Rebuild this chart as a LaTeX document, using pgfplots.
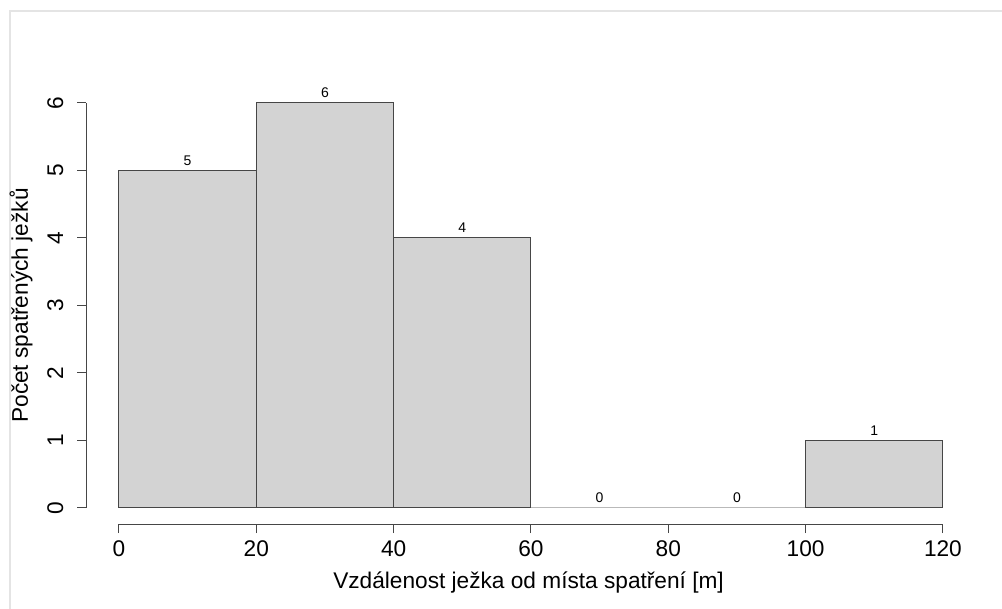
\documentclass[border=0pt]{standalone}
\usepackage{fontspec}
\setmainfont{Liberation Sans}
\usepackage{pgfplots}
\pgfplotsset{compat=1.18}
\definecolor{barfill}{RGB}{211,211,211}
\definecolor{lin}{RGB}{70,70,70}
\definecolor{frame}{RGB}{228,228,228}
\begin{document}
\begin{tikzpicture}
\useasboundingbox (0,0) rectangle (751.5pt,456.75pt);
\fill[white] (0,0) rectangle (751.5pt,456.75pt);
\draw[line width=1.5pt, frame] (7.5pt,0) -- (7.5pt,448.5pt) -- (751.5pt,448.5pt);
\begin{axis}[
  at={(64.5pt,63.6pt)}, anchor=south west,
  scale only axis, width=667.4pt, height=328.05pt,
  xmin=-4.8, xmax=124.8, ymin=-0.24, ymax=6.24,
  clip=false,
  axis line style={draw=none},
  xtick={0,20,...,120}, ytick={0,1,...,6},
  xtick pos=left, ytick pos=left,
  tick align=outside,
  major tick length=6.75pt,
  tick style={lin, line width=0.75pt},
  /pgf/number format/assume math mode=true,
  ticklabel style={font=\fontsize{17}{20}\selectfont},
  xticklabel style={anchor=base},
  xticklabel shift=17.5pt,
  yticklabel style={rotate=90, anchor=base},
  yticklabel shift=10.5pt,
  xlabel={Vzdálenost ježka od místa spatření [m]},
  ylabel={Počet spatřených ježků},
  label style={font=\fontsize{17}{20}\selectfont},
  xlabel style={at={(axis description cs:0.4973,-0.1459)}, anchor=base},
  ylabel style={at={(axis description cs:-0.0652,0.5)}, anchor=base},
]
\addplot[ybar interval, fill=barfill, draw=lin, line width=0.75pt]
  coordinates {(0,5) (20,6) (40,4) (60,0) (80,0) (100,1) (120,1)};
\addplot[draw=none, mark=none, nodes near coords,
  point meta=y,
  nodes near coords style={font=\fontsize{10.5}{12}\selectfont, anchor=south, inner sep=0pt, yshift=3.75pt}]
  coordinates {(10,5) (30,6) (50,4) (70,0) (90,0) (110,1)};
\draw[lin, line width=0.75pt] (axis cs:0,-0.24) -- (axis cs:120,-0.24);
\draw[lin, line width=0.75pt] (axis cs:-4.8,0) -- (axis cs:-4.8,6);
\end{axis}
\end{tikzpicture}
\end{document}
